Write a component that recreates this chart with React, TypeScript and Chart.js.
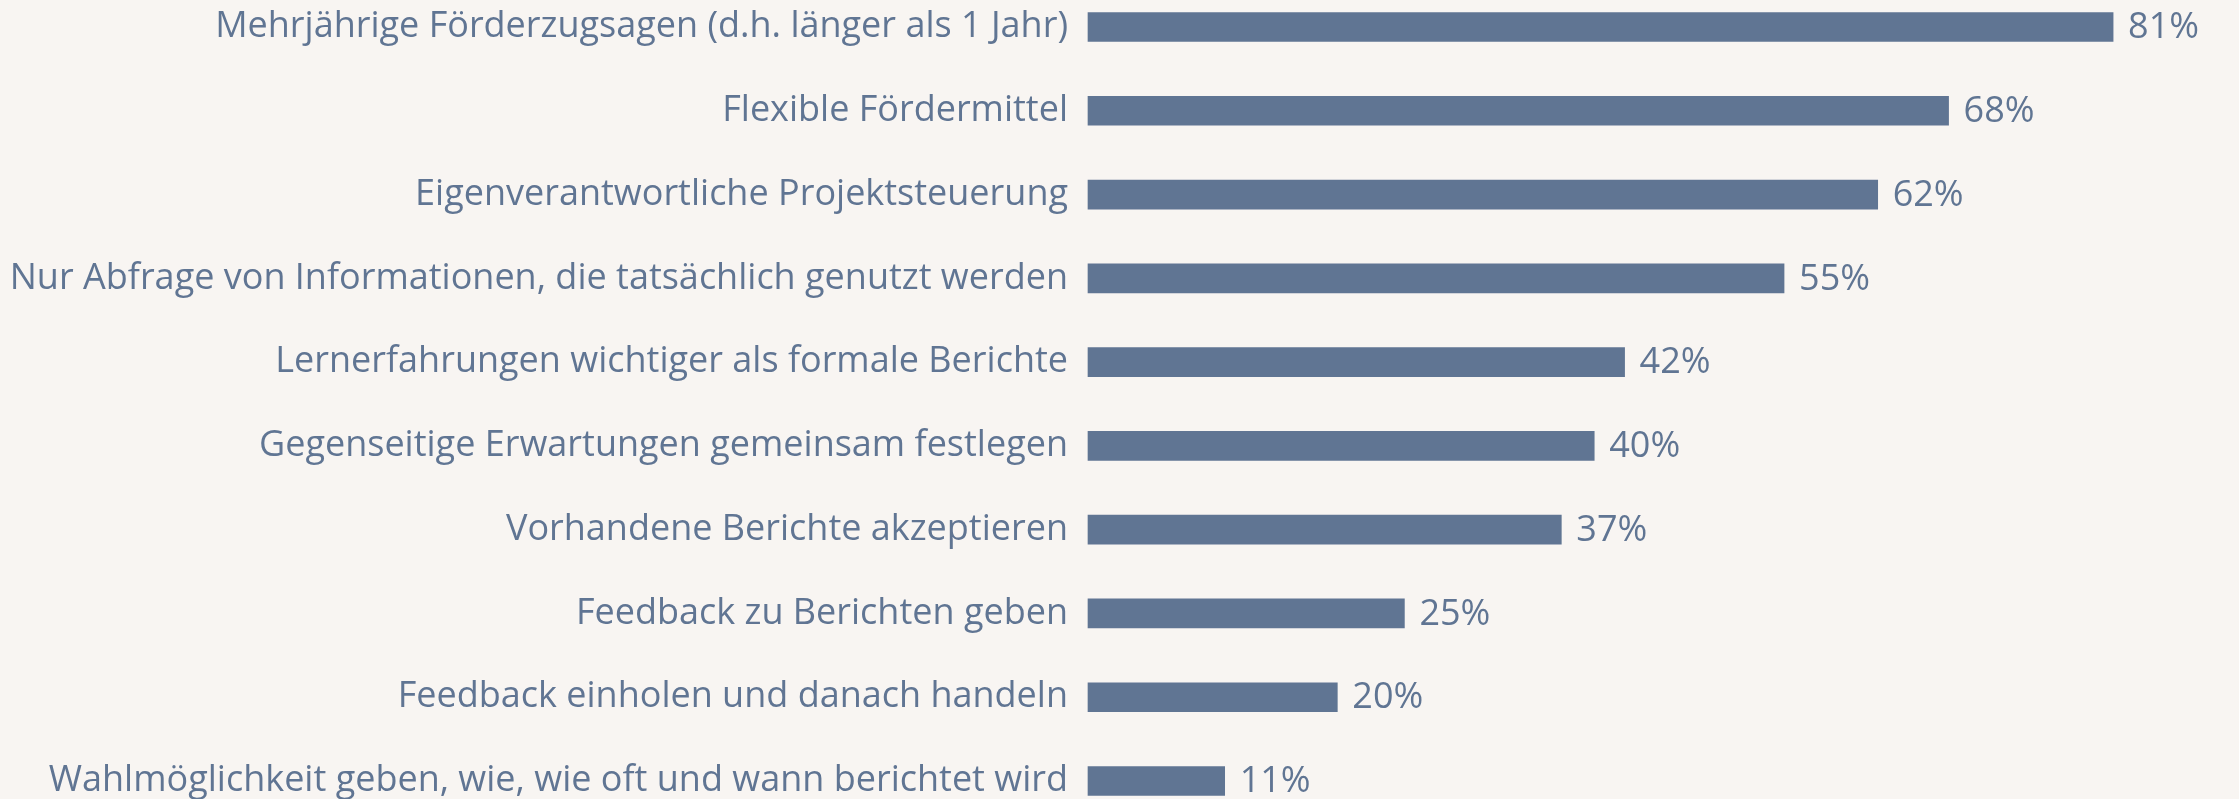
import React, { useEffect, useRef } from "react";
import { Chart, registerables } from "chart.js";

Chart.register(...registerables);

const categories: string[] = [
  "Mehrjährige Förderzugsagen (d.h. länger als 1 Jahr)",
  "Flexible Fördermittel",
  "Eigenverantwortliche Projektsteuerung",
  "Nur Abfrage von Informationen, die tatsächlich genutzt werden",
  "Lernerfahrungen wichtiger als formale Berichte",
  "Gegenseitige Erwartungen gemeinsam festlegen",
  "Vorhandene Berichte akzeptieren",
  "Feedback zu Berichten geben",
  "Feedback einholen und danach handeln",
  "Wahlmöglichkeit geben, wie, wie oft und wann berichtet wird",
];

const values: number[] = [81, 68, 62.4, 55, 42.4, 40, 37.4, 25, 19.7, 10.8];
const valueLabelsText: string[] = ["81%", "68%", "62%", "55%", "42%", "40%", "37%", "25%", "20%", "11%"];

const BG = "#f8f5f2";
const BAR = "#607593";
const TEXT = "#607593";
const FONT = "'Open Sans'";
const FONT_SIZE = 36;

const valueLabels = {
  id: "valueLabels",
  afterDatasetsDraw(chart: any) {
    const ctx = chart.ctx;
    const meta = chart.getDatasetMeta(0);
    ctx.save();
    ctx.fillStyle = TEXT;
    ctx.font = `${FONT_SIZE}px ${FONT}`;
    ctx.textAlign = "left";
    ctx.textBaseline = "middle";
    meta.data.forEach((bar: any, i: number) => {
      ctx.fillText(valueLabelsText[i], bar.x + 15, bar.y + 1);
    });
    ctx.restore();
  },
};

const bgPlugin = {
  id: "bg",
  beforeDraw(chart: any) {
    const ctx = chart.ctx;
    ctx.save();
    ctx.fillStyle = BG;
    ctx.fillRect(0, 0, chart.width, chart.height);
    ctx.restore();
  },
};

export default function App() {
  const ref = useRef<HTMLCanvasElement | null>(null);

  useEffect(() => {
    document.body.style.margin = "0";
    document.body.style.background = BG;
    if (!ref.current) return;
    const chart = new Chart(ref.current, {
      type: "bar",
      data: {
        labels: categories,
        datasets: [
          {
            data: values,
            backgroundColor: BAR,
            borderWidth: 0,
            barThickness: 29,
            clip: false,
          } as any,
        ],
      },
      options: {
        indexAxis: "y",
        animation: false,
        responsive: false,
        maintainAspectRatio: false,
        layout: { padding: { top: 27, bottom: 18, left: 0, right: 12 } },
        plugins: {
          legend: { display: false },
          tooltip: { enabled: false },
        },
        scales: {
          x: {
            display: false,
            min: 0,
            max: 90,
          },
          y: {
            offset: false,
            grid: { display: false, drawTicks: false },
            border: { display: false },
            ticks: {
              color: TEXT,
              padding: 20,
              font: { family: FONT, size: FONT_SIZE },
            },
            afterFit(scale: any) {
              scale.width = 1088;
              scale.paddingTop = 0;
              scale.paddingBottom = 0;
            },
          },
        },
      },
      plugins: [bgPlugin, valueLabels],
    });
    return () => chart.destroy();
  }, []);

  return (
    <div style={{ width: 2239, height: 799, background: BG, overflow: "hidden" }}>
      <canvas ref={ref} width={2239} height={799} style={{ display: "block" }} />
    </div>
  );
}
